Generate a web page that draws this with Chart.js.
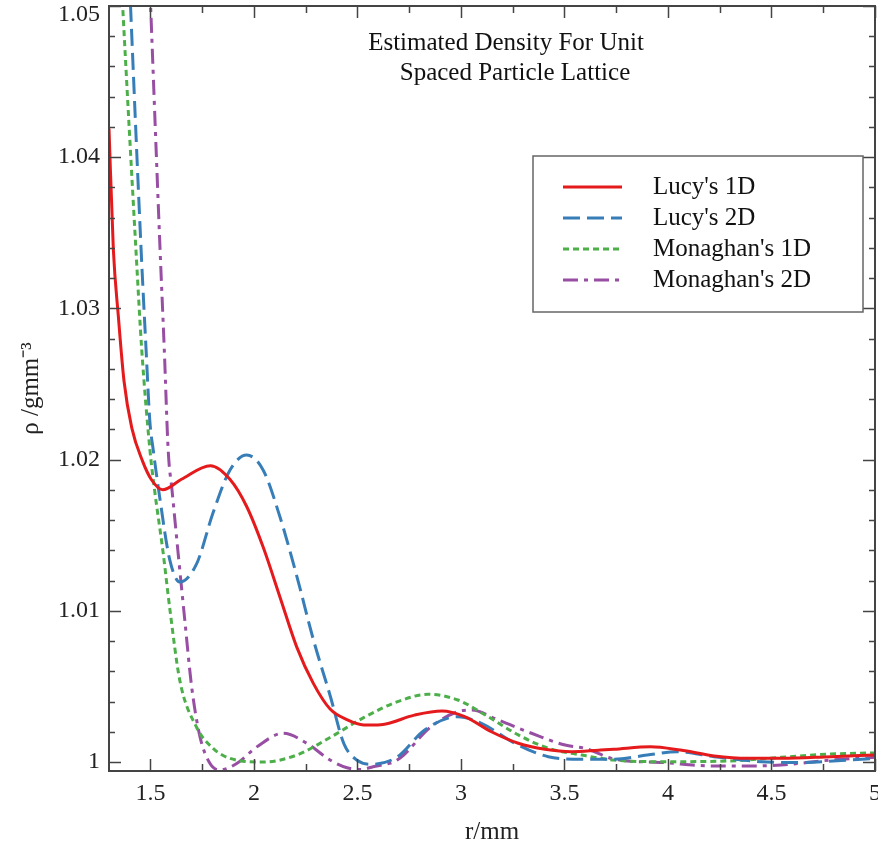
<!DOCTYPE html>
<html lang="en">

<head>
    <meta charset="UTF-8" />
    <title>Estimated Density For Unit Spaced Particle Lattice</title>
    <script src="https://cdn.jsdelivr.net/npm/chart.js"></script>
    <style>
        body { margin: 0; background: #fff; }
        #grafico { display: block; }
    </style>
</head>

<body>
    <canvas id="grafico" width="878" height="849"></canvas>
</body>

<script>
    // eixos
    const xTicks = [1.5, 2, 2.5, 3, 3.5, 4, 4.5, 5];
    const yTicks = [1, 1.01, 1.02, 1.03, 1.04, 1.05];

    // valores (r em mm, rho em g/mm3)
    const lucy1dR = [1.30, 1.321, 1.345, 1.3725, 1.41, 1.462, 1.506, 1.56, 1.65, 1.79, 1.884, 1.965, 2.045, 2.126, 2.207, 2.287, 2.368, 2.449, 2.53, 2.613, 2.775, 2.908, 3.018, 3.147, 3.277, 3.406, 3.535, 3.665, 3.738, 3.916, 4.06, 4.223, 4.384, 4.546, 4.788, 5.0];
    const lucy1dRho = [1.0419, 1.0339, 1.0295, 1.0252, 1.0221, 1.0199, 1.01865, 1.0180, 1.0187, 1.0196, 1.0187, 1.0169, 1.0142, 1.0109, 1.0076, 1.0052, 1.0035, 1.0028, 1.00245, 1.00247, 1.0031, 1.00337, 1.0030, 1.0020, 1.00124, 1.00084, 1.00068, 1.00078, 1.00084, 1.00101, 1.00079, 1.0004, 1.00024, 1.00024, 1.00035, 1.00046];

    const lucy2dR = [1.38, 1.404, 1.455, 1.479, 1.497, 1.514, 1.545, 1.593, 1.642, 1.723, 1.803, 1.884, 1.965, 2.045, 2.126, 2.207, 2.287, 2.368, 2.435, 2.50, 2.57, 2.694, 2.823, 2.985, 3.099, 3.26, 3.422, 3.584, 3.738, 3.90, 4.045, 4.223, 4.449, 4.627, 4.869, 5.0];
    const lucy2dRho = [1.058, 1.05, 1.0339, 1.0273, 1.0226, 1.0206, 1.0175, 1.0134, 1.0119, 1.0131, 1.0165, 1.0193, 1.0203, 1.0193, 1.0162, 1.0123, 1.0081, 1.0044, 1.0012, 1.0001, 0.99985, 1.00035, 1.0021, 1.0030, 1.00256, 1.00124, 1.00035, 1.00018, 1.00018, 1.00046, 1.00068, 1.00035, 1.00002, 0.99996, 1.00013, 1.00024];

    const monaghan1dR = [1.34, 1.366, 1.43, 1.458, 1.498, 1.52, 1.56, 1.595, 1.642, 1.723, 1.803, 1.884, 2.045, 2.207, 2.368, 2.532, 2.694, 2.84, 2.985, 3.131, 3.277, 3.422, 3.584, 3.738, 3.98, 4.30, 4.546, 4.788, 5.0];
    const monaghan1dRho = [1.057, 1.05, 1.0339, 1.0273, 1.0206, 1.0180, 1.0140, 1.0100, 1.0054, 1.0023, 1.0009, 1.00024, 1.0000, 1.00046, 1.00162, 1.00295, 1.00399, 1.00448, 1.0041, 1.0030, 1.00179, 1.00091, 1.00046, 1.00013, 1.00002, 1.00007, 1.00031, 1.00053, 1.0006];

    const monaghan2dR = [1.48, 1.501, 1.546, 1.567, 1.586, 1.605, 1.634, 1.666, 1.699, 1.739, 1.788, 1.836, 1.917, 2.014, 2.142, 2.255, 2.368, 2.45, 2.51, 2.58, 2.694, 2.856, 2.985, 3.05, 3.18, 3.341, 3.503, 3.60, 3.738, 3.98, 4.223, 4.384, 4.546, 4.788, 5.0];
    const monaghan2dRho = [1.0574, 1.05, 1.0341, 1.0273, 1.0206, 1.0179, 1.0138, 1.0094, 1.0050, 1.0017, 0.9999, 0.99947, 0.9999, 1.0010, 1.0019, 1.00124, 1.00013, 0.99962, 0.9995, 0.9997, 1.00015, 1.00234, 1.00333, 1.00344, 1.00278, 1.0019, 1.00112, 1.0009, 1.0002, 0.99996, 0.99974, 0.99974, 0.9998, 1.00013, 1.00031];

    const seriesNames = ["Lucy's 1D", "Lucy's 2D", "Monaghan's 1D", "Monaghan's 2D"];
    const titleLines = ['Estimated Density For Unit', 'Spaced Particle Lattice'];

    const serif = "'Liberation Serif', 'Times New Roman', serif";

    function pontos(rs, rhos) {
        return rs.map(function (r, i) { return { x: r, y: rhos[i] }; });
    }

    function serie(nome, rs, rhos, cor, traco) {
        return {
            label: nome,
            data: pontos(rs, rhos),
            borderColor: cor,
            backgroundColor: cor,
            borderWidth: 3,
            borderDash: traco,
            pointRadius: 0,
            fill: false,
            cubicInterpolationMode: 'monotone',
            clip: 0
        };
    }

    const data = {
        datasets: [
            serie(seriesNames[0], lucy1dR, lucy1dRho, '#e41a1c', []),
            serie(seriesNames[1], lucy2dR, lucy2dRho, '#377eb8', [17, 7]),
            serie(seriesNames[2], monaghan1dR, monaghan1dRho, '#4daf4a', [6, 4]),
            serie(seriesNames[3], monaghan2dR, monaghan2dRho, '#984ea3', [15, 6, 4, 6])
        ]
    };

    // moldura, ticks internos, titulo e legenda dentro da area do grafico
    const molduraPlugin = {
        id: 'moldura',
        afterDatasetsDraw(chart) {
            const ctx = chart.ctx;
            const a = chart.chartArea;
            const xs = chart.scales.x;
            const ys = chart.scales.y;

            ctx.save();
            ctx.strokeStyle = '#444';
            ctx.lineWidth = 1.5;
            ctx.beginPath();
            for (let k = Math.ceil(xs.min / 0.25); k * 0.25 <= xs.max + 1e-9; k++) {
                const px = Math.round(xs.getPixelForValue(k * 0.25)) + 0.5;
                const len = (k % 2 === 0) ? 12 : 7;
                ctx.moveTo(px, a.bottom); ctx.lineTo(px, a.bottom - len);
                ctx.moveTo(px, a.top); ctx.lineTo(px, a.top + len);
            }
            for (let k = Math.ceil(ys.min / 0.002 - 1e-6); k * 0.002 <= ys.max + 1e-9; k++) {
                const py = Math.round(ys.getPixelForValue(k * 0.002)) + 0.5;
                const len = (k % 5 === 0) ? 12 : 6;
                ctx.moveTo(a.left, py); ctx.lineTo(a.left + len, py);
                ctx.moveTo(a.right, py); ctx.lineTo(a.right - len, py);
            }
            ctx.stroke();

            ctx.lineWidth = 2;
            ctx.strokeRect(a.left, a.top, a.right - a.left, a.bottom - a.top);

            // titulo
            ctx.fillStyle = '#111';
            ctx.font = '25px ' + serif;
            ctx.textAlign = 'center';
            ctx.textBaseline = 'middle';
            ctx.fillText(titleLines[0], a.left + 397, a.top + 37);
            ctx.fillText(titleLines[1], a.left + 406, a.top + 67);

            // legenda
            const lx = 533, ly = 156, lw = 330, lh = 156;
            ctx.fillStyle = '#fff';
            ctx.fillRect(lx, ly, lw, lh);
            ctx.strokeStyle = '#666';
            ctx.lineWidth = 1.5;
            ctx.strokeRect(lx, ly, lw, lh);
            chart.data.datasets.forEach(function (ds, i) {
                const y = ly + 31 + i * 31;
                ctx.beginPath();
                ctx.setLineDash(ds.borderDash);
                ctx.strokeStyle = ds.borderColor;
                ctx.lineWidth = 3;
                ctx.moveTo(lx + 30, y);
                ctx.lineTo(lx + 89, y);
                ctx.stroke();
                ctx.setLineDash([]);
                ctx.fillStyle = '#111';
                ctx.textAlign = 'left';
                ctx.fillText(ds.label, lx + 120, y);
            });
            ctx.restore();
        }
    };

    const config = {
        type: 'line',
        data: data,
        options: {
            responsive: false,
            animation: false,
            layout: {
                padding: { top: 6, right: 3, left: 0, bottom: 0 }
            },
            scales: {
                x: {
                    type: 'linear',
                    min: 1.3,
                    max: 5,
                    afterBuildTicks: function (scale) {
                        scale.ticks = xTicks.map(function (v) { return { value: v }; });
                    },
                    afterFit: function (scale) {
                        scale.height = 78;
                        scale.paddingLeft = 0;
                        scale.paddingRight = 0;
                    },
                    grid: { display: false, drawTicks: false },
                    border: { display: false },
                    ticks: {
                        autoSkip: false,
                        maxRotation: 0,
                        padding: 8,
                        color: '#222',
                        font: { family: serif, size: 24 },
                        callback: function (v) { return String(v); }
                    },
                    title: {
                        display: true,
                        text: 'r/mm',
                        color: '#222',
                        font: { family: serif, size: 25 },
                        padding: { top: 0, bottom: 2 }
                    }
                },
                y: {
                    type: 'linear',
                    min: 0.999405,
                    max: 1.05,
                    afterBuildTicks: function (scale) {
                        scale.ticks = yTicks.map(function (v) { return { value: v }; });
                    },
                    afterFit: function (scale) {
                        scale.width = 109;
                        scale.paddingTop = 0;
                        scale.paddingBottom = 0;
                    },
                    grid: { display: false, drawTicks: false },
                    border: { display: false },
                    ticks: {
                        autoSkip: false,
                        padding: 9,
                        color: '#222',
                        font: function (c) {
                            const topo = c.tick && c.tick.value === 1.05;
                            return { family: serif, size: 24, lineHeight: topo ? 0.7 : 1.2 };
                        },
                        callback: function (v) {
                            return v === 1.05 ? ['', '1.05'] : String(v);
                        }
                    },
                    title: {
                        display: true,
                        text: 'ρ /gmm⁻³',
                        color: '#222',
                        font: { family: serif, size: 25 },
                        padding: { top: 16, bottom: 0 }
                    }
                }
            },
            plugins: {
                legend: { display: false },
                tooltip: { enabled: false }
            }
        },
        plugins: [molduraPlugin]
    };

    const myChart = new Chart(
        document.getElementById('grafico'),
        config
    );
</script>

</html>
